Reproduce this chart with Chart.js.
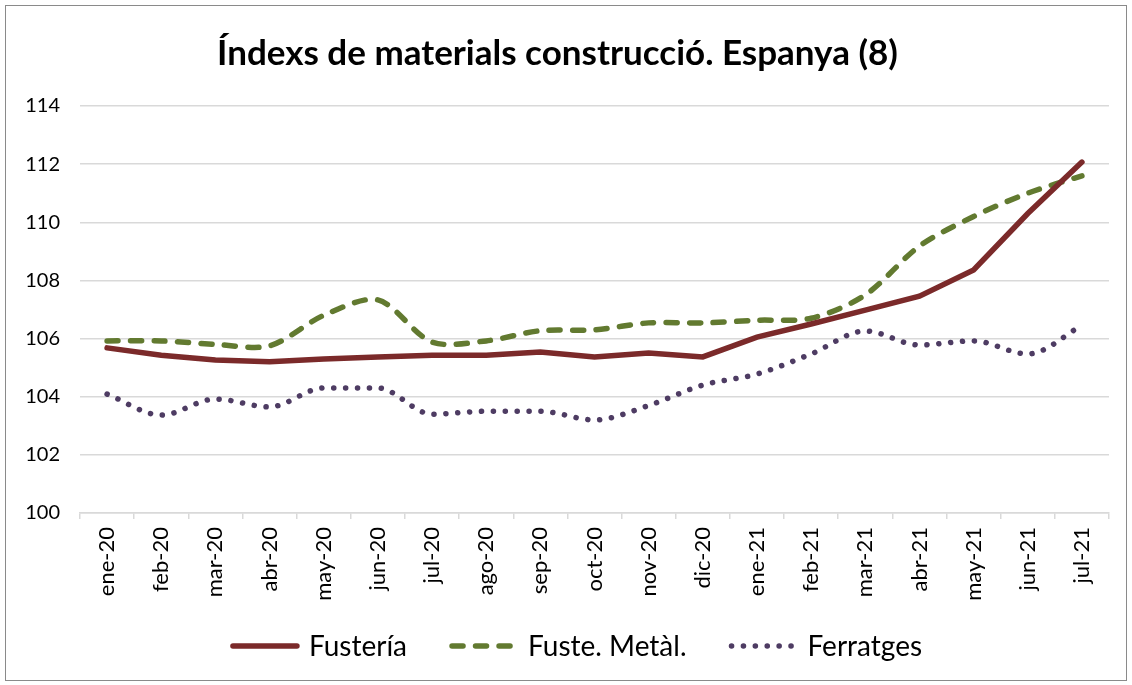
<!DOCTYPE html>
<html>
<head>
<meta charset="utf-8">
<script src="https://cdn.jsdelivr.net/npm/chart.js@4"></script>
<style>
	body { margin: 0; background: #fff; }
	#wrap { position: absolute; left: 5px; top: 5px; width: 1120px; height: 674px; border: 1px solid #8a8a8a; }
</style>
</head>
<body>
<div id="wrap"><canvas id="chart"></canvas></div>
<script>
// data
const months = ['ene-20', 'feb-20', 'mar-20', 'abr-20', 'may-20', 'jun-20', 'jul-20', 'ago-20', 'sep-20',
	'oct-20', 'nov-20', 'dic-20', 'ene-21', 'feb-21', 'mar-21', 'abr-21', 'may-21', 'jun-21', 'jul-21'];
const fusteria = [105.68, 105.43, 105.26, 105.2, 105.3, 105.37, 105.43, 105.43, 105.54,
	105.37, 105.5, 105.37, 106.05, 106.5, 106.98, 107.46, 108.36, 110.3, 112.07];
const fusteMetal = [105.92, 105.92, 105.8, 105.75, 106.8, 107.33, 105.88, 105.92, 106.27,
	106.3, 106.54, 106.54, 106.63, 106.7, 107.5, 109.18, 110.2, 111.0, 111.6];
const ferratges = [104.09, 103.37, 103.92, 103.65, 104.3, 104.3, 103.4, 103.5, 103.5,
	103.2, 103.7, 104.4, 104.78, 105.47, 106.26, 105.78, 105.92, 105.47, 106.45];
const yTicks = [100, 102, 104, 106, 108, 110, 112, 114];

Chart.defaults.font.family = 'Lato';
Chart.defaults.color = '#000';

// legend drawn by hand so the dashes / dots show like in excel
const lineLegend = {
	id: 'lineLegend',
	afterDraw(chart) {
		const ctx = chart.ctx;
		const sampleW = 70, gap = 9, itemGap = 42;
		ctx.save();
		ctx.font = '28px Lato';
		const items = chart.data.datasets.map(ds => ({ ds, w: ctx.measureText(ds.label).width }));
		const total = items.reduce((s, it) => s + sampleW + gap + it.w, 0) + itemGap * (items.length - 1);
		let x = chart.width / 2 + 10 - total / 2;
		const y = 640;
		items.forEach(it => {
			ctx.beginPath();
			ctx.lineWidth = it.ds.borderWidth;
			ctx.strokeStyle = it.ds.borderColor;
			ctx.lineCap = 'round';
			ctx.setLineDash(it.ds.borderDash || []);
			ctx.moveTo(x + 3, y);
			ctx.lineTo(x + sampleW - 3, y);
			ctx.stroke();
			ctx.setLineDash([]);
			ctx.fillStyle = '#000';
			ctx.textBaseline = 'middle';
			ctx.textAlign = 'left';
			ctx.fillText(it.ds.label, x + sampleW + gap, y + 1);
			x += sampleW + gap + it.w + itemGap;
		});
		ctx.restore();
	}
};

const data = {
	labels: months,
	datasets: [{
		label: 'Fustería',
		data: fusteria,
		borderColor: '#7b2a2a',
		borderWidth: 5.5,
		borderCapStyle: 'round',
		tension: 0
	},
	{
		label: 'Fuste. Metàl.',
		data: fusteMetal,
		borderColor: '#627a30',
		borderWidth: 5.5,
		borderDash: [11, 12.5],
		borderCapStyle: 'round',
		tension: 0.3
	},
	{
		label: 'Ferratges',
		data: ferratges,
		borderColor: '#4e3c63',
		borderWidth: 5.5,
		borderDash: [0.1, 11.8],
		borderCapStyle: 'round',
		cubicInterpolationMode: 'monotone'
	}]
};

const config = {
	type: 'line',
	data,
	options: {
		responsive: true,
		maintainAspectRatio: false,
		animation: false,
		elements: { point: { radius: 0 } },
		layout: { padding: { left: 0, right: 17, top: 0, bottom: 67 } },
		plugins: {
			title: {
				display: true,
				text: 'Índexs de materials construcció. Espanya (8)',
				font: { size: 35, weight: 'bold' },
				padding: { top: 27, bottom: 31 }
			},
			legend: { display: false },
			tooltip: { enabled: false }
		},
		scales: {
			x: {
				offset: true,
				afterFit: (scale) => { scale.height = 100; },
				grid: {
					offset: true,
					drawOnChartArea: false,
					color: '#d9d9d9',
					lineWidth: 1.5,
					tickLength: 6
				},
				border: { color: '#d9d9d9', width: 1.5 },
				ticks: {
					minRotation: 90,
					maxRotation: 90,
					padding: 8,
					font: { size: 22 }
				}
			},
			y: {
				min: 100,
				max: 114,
				afterFit: (scale) => { scale.width = 74; },
				afterBuildTicks: (scale) => { scale.ticks = yTicks.map(v => ({ value: v })); },
				grid: { color: '#d9d9d9', lineWidth: 1.5, drawTicks: false },
				border: { display: false },
				ticks: {
					padding: 20,
					font: { size: 20 }
				}
			}
		}
	},
	plugins: [lineLegend]
};

const myChart = new Chart(document.getElementById('chart'), config);
</script>
</body>
</html>
